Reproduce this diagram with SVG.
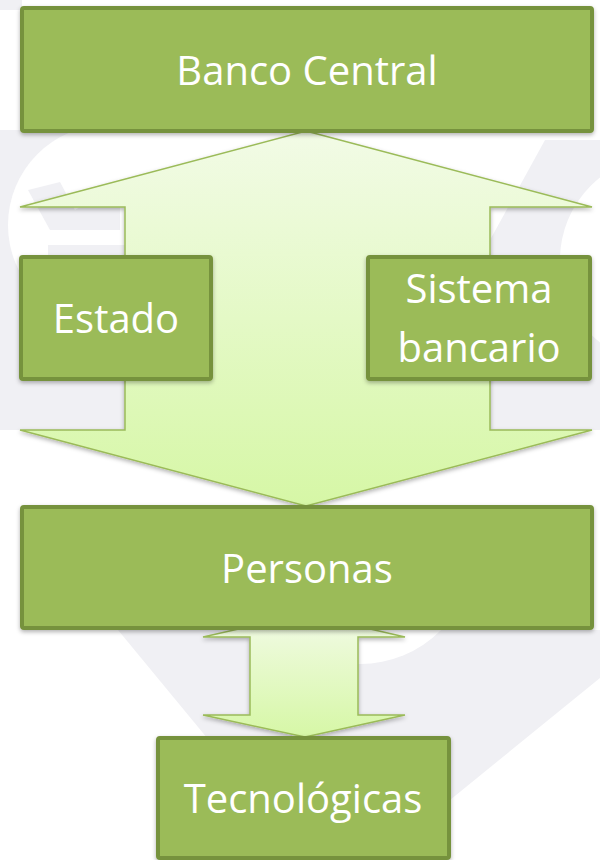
<svg xmlns="http://www.w3.org/2000/svg" width="600" height="860" viewBox="0 0 600 860">
<defs>
<linearGradient id="arrowGrad" x1="0" y1="0" x2="0" y2="1">
<stop offset="0" stop-color="#f2fbe6"/>
<stop offset="1" stop-color="#d6f7a6"/>
</linearGradient>
<filter id="shadow" x="-10%" y="-10%" width="120%" height="130%">
<feDropShadow dx="0" dy="2" stdDeviation="2" flood-color="#000" flood-opacity="0.3"/>
</filter>
</defs>
<style>
.box{fill:#9bbb59;stroke:#76923c;stroke-width:4;}
.lbl{fill:#ffffff;font-family:"Open Sans","Liberation Sans",sans-serif;font-size:40px;text-anchor:middle;}
.arrow{fill:url(#arrowGrad);stroke:#9bbb59;stroke-width:1.5;stroke-linejoin:miter;}
.wm{fill:#f0f0f4;}
.wmw{fill:#ffffff;}
</style>
<rect width="600" height="860" fill="#ffffff"/>
<g id="watermark">
<rect class="wm" x="0" y="130" width="130" height="300"/>
<circle class="wmw" cx="108" cy="225" r="100"/>
<path class="wm" d="M28,190 L60,182 L75,210 L100,195 L120,205 L120,230 L50,230 Z"/>
<path class="wm" d="M48,245 L125,245 L125,262 L48,262 Z"/>
<path class="wm" d="M490,240 L545,140 L600,140 L600,430 L490,430 Z"/>
<circle class="wmw" cx="665" cy="260" r="105"/>
<path class="wm" d="M118,630 L600,630 L600,678 L450,800 L250,790 Z"/>
<circle class="wmw" cx="360" cy="550" r="114"/>
<path class="wm" d="M0,0 L22,0 L22,10 L0,10 Z"/>
</g>
<g id="connectors">
<path class="arrow" filter="url(#shadow)" d="M306,131 L592,207 L490,207 L490,430 L592,430 L306,506 L20,430 L125,430 L125,207 L20,207 Z"/>
<path class="arrow" filter="url(#shadow)" d="M305,614 L405,637 L358,637 L358,715 L405,715 L305,737 L203,715 L250,715 L250,637 L203,637 Z"/>
</g>
<g id="node-banco-central">
<rect class="box" x="22" y="8" width="570" height="123" rx="2" filter="url(#shadow)"/>
<text class="lbl" x="307" y="85">Banco Central</text>
</g>
<g id="node-estado">
<rect class="box" x="21" y="257" width="190" height="122" rx="2" filter="url(#shadow)"/>
<text class="lbl" x="116" y="333">Estado</text>
</g>
<g id="node-sistema-bancario">
<rect class="box" x="368" y="257" width="222" height="122" rx="2" filter="url(#shadow)"/>
<text class="lbl" x="479" y="303">Sistema</text>
<text class="lbl" x="479" y="362">bancario</text>
</g>
<g id="node-personas">
<rect class="box" x="22" y="507" width="570" height="121" rx="2" filter="url(#shadow)"/>
<text class="lbl" x="307" y="583">Personas</text>
</g>
<g id="node-tecnologicas">
<rect class="box" x="158" y="738" width="291" height="120" rx="2" filter="url(#shadow)"/>
<text class="lbl" x="303" y="813">Tecnológicas</text>
</g>
</svg>
